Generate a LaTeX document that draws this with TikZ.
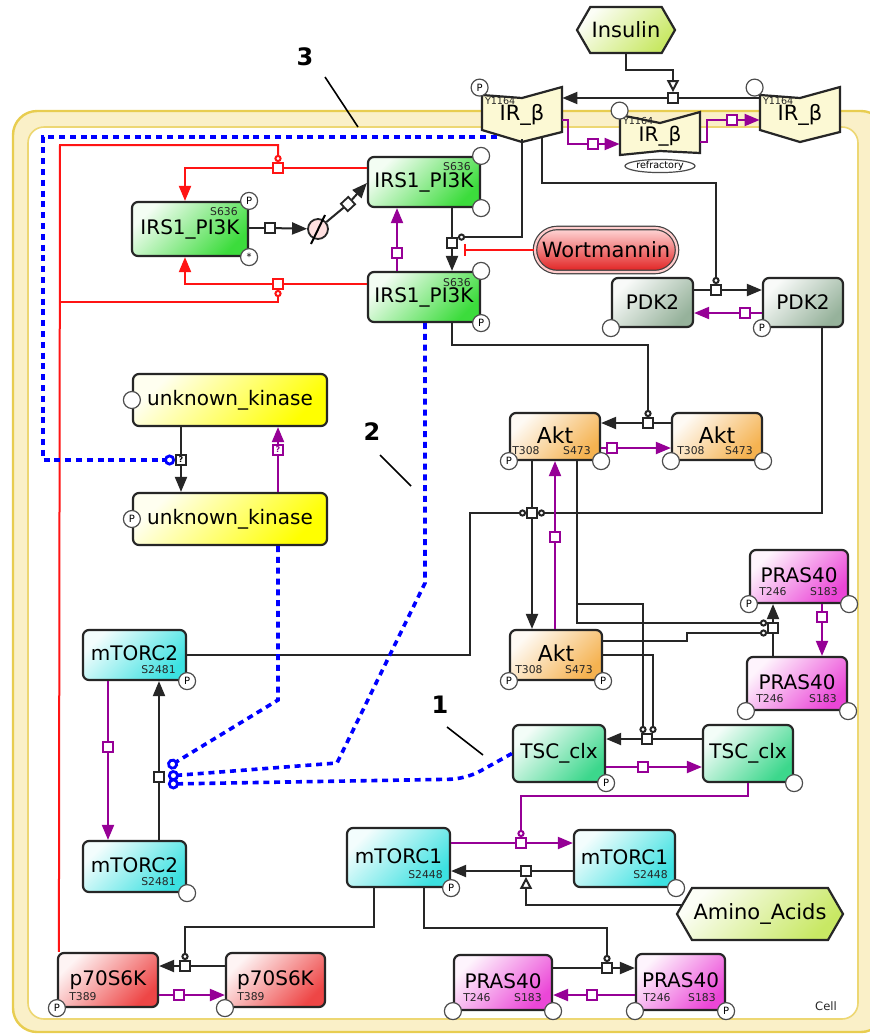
\documentclass[tikz,border=0pt]{standalone}
\usepackage{fontspec}
\setmainfont{DejaVu Sans}
\usepackage{tikz}
\usetikzlibrary{shapes.geometric,shapes.symbols,arrows.meta,positioning,calc}
\definecolor{irsgreen}{RGB}{60,220,60}
\definecolor{pdkgray}{RGB}{150,178,155}
\definecolor{aktorange}{RGB}{245,178,80}
\definecolor{prasmag}{RGB}{235,70,215}
\definecolor{tscgreen}{RGB}{60,215,140}
\definecolor{mtorcyan}{RGB}{60,225,225}
\definecolor{ukyellow}{RGB}{255,255,0}
\definecolor{p70red}{RGB}{238,70,70}
\definecolor{wortred}{RGB}{225,30,30}
\definecolor{hexgreen}{RGB}{200,232,100}
\definecolor{irfill}{RGB}{252,249,212}
\definecolor{ppurple}{RGB}{150,0,150}
\definecolor{bblue}{RGB}{0,0,255}
\definecolor{rred}{RGB}{255,20,20}
\definecolor{membfill}{RGB}{250,240,200}
\definecolor{membline}{RGB}{232,205,80}

\tikzset{
  species/.style={draw=black!85, line width=1.1pt, rounded corners=3pt, inner sep=0pt,
    font=\fontsize{10}{12}\selectfont},
  shadeof/.style={top color=#1!6, bottom color=#1, shading angle=45},
  irtext/.style={minimum width=40pt, minimum height=22pt, inner sep=0pt,
    font=\fontsize{10.5}{12}\selectfont},
  irline/.style={draw=black!85, fill=irfill, line width=1.1pt},
  hexa/.style={signal, signal to=east and west, signal pointer angle=120, draw=black!85,
    line width=1.1pt, inner sep=0pt, font=\fontsize{10.5}{12}\selectfont},
  site/.style={font=\fontsize{5.4}{6}\selectfont, inner sep=0pt, text=black!85},
  irsite/.style={site, font=\fontsize{4.8}{5}\selectfont, anchor=north west},
  pstate/.style={circle, draw=black!70, fill=white, line width=0.6pt, minimum size=8.5pt,
    inner sep=0pt, anchor=center, font=\fontsize{5}{5}\selectfont},
  rxn/.style={draw=black!85, fill=white, line width=0.9pt, minimum size=5pt, inner sep=0pt,
    font=\fontsize{4}{4}\selectfont\bfseries},
  prxn/.style={rxn, draw=ppurple, text=ppurple},
  rrxn/.style={rxn, draw=rred},
  link/.style={draw=black!85, line width=1pt},
  conv/.style={link, -{Triangle[length=7.5pt,width=6pt]}},
  stim/.style={link, -{Triangle[open, fill=white, length=6pt, width=6pt]}},
  modc/.style={link, -{Circle[open, fill=white, length=3.6pt]}},
  plink/.style={draw=ppurple, line width=1pt},
  pconv/.style={plink, -{Triangle[length=7.5pt,width=6pt]}},
  pmodc/.style={plink, -{Circle[open, fill=white, length=3.6pt]}},
  rlink/.style={draw=rred, line width=1pt},
  rconv/.style={rlink, -{Triangle[length=7.5pt,width=6pt]}},
  rmodc/.style={rlink, -{Circle[open, fill=white, length=3.6pt]}},
  inhib/.style={rlink, -{Bar[width=6pt]}},
  bmod/.style={draw=bblue, line width=1.8pt, dash pattern=on 3pt off 2.4pt,
    -{Circle[open, length=5.5pt, line width=1.4pt]}},
  numlab/.style={font=\fontsize{12}{12}\selectfont\bfseries, inner sep=0pt},
  pointer/.style={draw=black, line width=0.8pt}
}

\begin{document}
\begin{tikzpicture}[x=0.5pt, y=-0.5pt]
  \useasboundingbox (0,0) rectangle (869,1034);

  % cell compartment
  \draw[fill=membfill, draw=membline, line width=1.2pt, rounded corners=12pt] (13,111) rectangle (885,1032);
  \draw[fill=white, draw=membline!80, line width=0.8pt, rounded corners=8pt] (28,127) rectangle (858,1019);
  \node[site, font=\fontsize{5.8}{6}\selectfont] (cell) at (826,1006) {Cell};

  % insulin receptor
  \draw[irline] (482,95) -- (522,98) -- (562,87) -- (562,132) -- (522,142) -- (482,130) -- cycle;
  \draw[irline] (760,95) -- (800,98) -- (840,87) -- (840,132) -- (800,142) -- (760,130) -- cycle;
  \draw[irline] (620,115) -- (660,123) -- (700,112) -- (700,153) -- (660,151) -- (620,155) -- cycle;
  \node[irtext, label={[irsite, xshift=1.5pt, yshift=-2pt]north west:Y1164},
    label={[pstate, xshift=-1pt, yshift=2.5pt]north west:P}] (irA) at (522,115) {\raisebox{-3pt}{IR\_β}};
  \node[irtext, label={[irsite, xshift=1.5pt, yshift=-2pt]north west:Y1164},
    label={[pstate, xshift=-2.5pt, yshift=2.5pt]north west:{}}] (irB) at (800,115) {\raisebox{-3pt}{IR\_β}};
  \node[irtext, font=\fontsize{10}{12}\selectfont,
    label={[irsite, xshift=1.5pt, yshift=-1.5pt]north west:Y1164},
    label={[pstate, yshift=1.5pt]north west:{}}] (irR) at (660,136) {\raisebox{-5pt}{IR\_β}};
  \node[ellipse, draw=black!70, fill=white, line width=0.6pt, minimum width=35pt, minimum height=6.5pt,
    inner sep=0pt, font=\fontsize{4.8}{5}\selectfont] (refr) at (660,166) {refractory};

  % species
  \node[hexa, shadeof=hexgreen, minimum width=49pt, minimum height=23pt] (ins) at (626,30) {Insulin};
  \node[hexa, shadeof=hexgreen, minimum width=83pt, minimum height=26pt] (amino) at (760,914) {Amino\_Acids};
  \node[species, shadeof=wortred, rounded corners=11pt, minimum width=71pt, minimum height=22pt,
    font=\fontsize{10.5}{12}\selectfont, top color=red!15,
    draw=black!75, double=red!20, double distance=1.1pt, line width=0.6pt] (wort) at (606,250) {Wortmannin};

  \node[species, shadeof=irsgreen, minimum width=58pt, minimum height=27pt,
    label={[site, anchor=north east, xshift=-5.5pt, yshift=-3pt]north east:S636},
    label={[pstate]north east:P}, label={[pstate]south east:*}] (irsL) at (190,229) {IRS1\_PI3K};
  \node[species, shadeof=irsgreen, minimum width=56pt, minimum height=25pt,
    label={[site, anchor=north east, xshift=-5pt, yshift=-3pt]north east:S636},
    label={[pstate]north east:{}}, label={[pstate]south east:{}}] (irsU) at (424,182) {IRS1\_PI3K};
  \node[species, shadeof=irsgreen, minimum width=56pt, minimum height=25pt,
    label={[site, anchor=north east, xshift=-5pt, yshift=-3.5pt]north east:S636},
    label={[pstate]north east:{}}, label={[pstate]south east:P}] (irsD) at (424,297) {IRS1\_PI3K};

  \node[species, shadeof=pdkgray, minimum width=40.5pt, minimum height=24.5pt,
    label={[pstate]south west:{}}] (pdkA) at (652.5,302.5) {PDK2};
  \node[species, shadeof=pdkgray, minimum width=40pt, minimum height=24.5pt,
    label={[pstate]south west:P}] (pdkB) at (803,302.5) {PDK2};

  \node[species, shadeof=aktorange, minimum width=45pt, minimum height=23.5pt, font=\fontsize{11}{12}\selectfont,
    label={[site, anchor=south west, xshift=1.5pt, yshift=3pt]south west:T308},
    label={[site, anchor=south east, xshift=-5pt, yshift=3pt]south east:S473},
    label={[pstate]south west:P}, label={[pstate]south east:{}}] (aktP) at (555,436.5) {\raisebox{1.5pt}{Akt}};
  \node[species, shadeof=aktorange, minimum width=45pt, minimum height=23.5pt, font=\fontsize{11}{12}\selectfont,
    label={[site, anchor=south west, xshift=3pt, yshift=3pt]south west:T308},
    label={[site, anchor=south east, xshift=-5pt, yshift=3pt]south east:S473},
    label={[pstate]south west:{}}, label={[pstate]south east:{}}] (akt0) at (717,436.5) {\raisebox{1.5pt}{Akt}};
  \node[species, shadeof=aktorange, minimum width=46pt, minimum height=25pt, font=\fontsize{11}{12}\selectfont,
    label={[site, anchor=south west, xshift=3pt, yshift=3.5pt]south west:T308},
    label={[site, anchor=south east, xshift=-5pt, yshift=3.5pt]south east:S473},
    label={[pstate]south west:P}, label={[pstate]south east:P}] (aktPP) at (556,655) {\raisebox{1.5pt}{Akt}};

  \node[species, shadeof=prasmag, minimum width=49pt, minimum height=26.5pt,
    label={[site, anchor=south west, xshift=5pt, yshift=4pt]south west:T246},
    label={[site, anchor=south east, xshift=-5.5pt, yshift=4pt]south east:S183},
    label={[pstate]south west:P}, label={[pstate]south east:{}}] (prasP) at (799,576.5) {\raisebox{1.5pt}{PRAS40}};
  \node[species, shadeof=prasmag, minimum width=50pt, minimum height=26.5pt,
    label={[site, anchor=south west, xshift=5pt, yshift=4pt]south west:T246},
    label={[site, anchor=south east, xshift=-5.5pt, yshift=4pt]south east:S183},
    label={[pstate]south west:{}}, label={[pstate]south east:{}}] (pras0) at (797,683.5) {\raisebox{1.5pt}{PRAS40}};
  \node[species, shadeof=prasmag, minimum width=49pt, minimum height=27.5pt,
    label={[site, anchor=south west, xshift=5pt, yshift=4.5pt]south west:T246},
    label={[site, anchor=south east, xshift=-5.5pt, yshift=4.5pt]south east:S183},
    label={[pstate]south west:{}}, label={[pstate]south east:{}}] (prasB0) at (503,982.5) {\raisebox{1.5pt}{PRAS40}};
  \node[species, shadeof=prasmag, minimum width=44.5pt, minimum height=28pt,
    label={[site, anchor=south west, xshift=4pt, yshift=4.5pt]south west:T246},
    label={[site, anchor=south east, xshift=-5pt, yshift=4.5pt]south east:S183},
    label={[pstate]south west:{}}, label={[pstate]south east:P}] (prasBP) at (680.5,982) {\raisebox{1.5pt}{PRAS40}};

  \node[species, shadeof=tscgreen, minimum width=46pt, minimum height=28.5pt,
    label={[pstate]south east:P}] (tscP) at (559,753.5) {TSC\_clx};
  \node[species, shadeof=tscgreen, minimum width=45pt, minimum height=28.5pt,
    label={[pstate]south east:{}}] (tsc0) at (748,753.5) {TSC\_clx};

  \node[species, shadeof=mtorcyan, minimum width=51.5pt, minimum height=25pt,
    label={[site, anchor=south east, xshift=-5.5pt, yshift=3.5pt]south east:S2481},
    label={[pstate]south east:P}] (mtc2P) at (134.5,655) {\raisebox{1.5pt}{mTORC2}};
  \node[species, shadeof=mtorcyan, minimum width=51.5pt, minimum height=25.5pt,
    label={[site, anchor=south east, xshift=-5.5pt, yshift=3.5pt]south east:S2481},
    label={[pstate]south east:{}}] (mtc20) at (134.5,866.5) {\raisebox{1.5pt}{mTORC2}};
  \node[species, shadeof=mtorcyan, minimum width=51.5pt, minimum height=29.5pt,
    label={[site, anchor=south east, xshift=-4pt, yshift=4.5pt]south east:S2448},
    label={[pstate]south east:P}] (mtc1P) at (398.5,857.5) {\raisebox{1.5pt}{mTORC1}};
  \node[species, shadeof=mtorcyan, minimum width=50.5pt, minimum height=28.5pt,
    label={[site, anchor=south east, xshift=-4pt, yshift=4.5pt]south east:S2448},
    label={[pstate]south east:{}}] (mtc10) at (624.5,858.5) {\raisebox{1.5pt}{mTORC1}};

  \node[species, shadeof=ukyellow, minimum width=97pt, minimum height=26pt,
    label={[pstate]west:{}}] (ukA) at (230,400) {unknown\_kinase};
  \node[species, shadeof=ukyellow, minimum width=97pt, minimum height=26pt,
    label={[pstate]west:P}] (ukP) at (230,519) {unknown\_kinase};

  \node[species, shadeof=p70red, minimum width=50pt, minimum height=27pt,
    label={[site, anchor=south west, xshift=6pt, yshift=3.5pt]south west:T389},
    label={[pstate]south west:P}] (p70P) at (108,980) {\raisebox{2pt}{p70S6K}};
  \node[species, shadeof=p70red, minimum width=49.5pt, minimum height=27pt,
    label={[site, anchor=south west, xshift=6pt, yshift=3.5pt]south west:T389},
    label={[pstate]south west:{}}] (p700) at (275.5,980) {\raisebox{2pt}{p70S6K}};

  % degradation symbol
  \node[circle, draw=black!85, fill=red!12, line width=0.9pt, minimum size=10pt, inner sep=0pt] (deg) at (318,229) {};
  \draw[line width=1pt] ($(deg)+(-7,15)$) -- ($(deg)+(7,-14)$);

  % reaction squares
  \node[rxn] (rIR) at (673,98) {};
  \node[prxn] (rIRr) at (593,144) {};
  \node[prxn] (rIRb) at (732,120) {};
  \node[rrxn] (rIrsA) at (278,168) {};
  \node[rrxn] (rIrsB) at (278,284) {};
  \node[rxn] (rDeg) at (270,228) {};
  \node[rxn, rotate=43] (rSyn) at (348,204) {};
  \node[rxn] (rIrsC) at (452,243) {};
  \node[prxn] (rIrsD) at (397,253) {};
  \node[rxn] (rPdk) at (716,290) {};
  \node[prxn] (rPdkb) at (745,313) {};
  \node[rxn] (rAkt) at (648,423) {};
  \node[prxn] (rAktb) at (612,448) {};
  \node[rxn] (rAkt2) at (532,513) {};
  \node[prxn] (rAktc) at (555,537) {};
  \node[rxn] (rPras) at (773,628) {};
  \node[prxn] (rPrasb) at (822,617) {};
  \node[rxn] (rTsc) at (647,739) {};
  \node[prxn] (rTscb) at (643,767) {};
  \node[prxn] (rMt1b) at (521,843) {};
  \node[rxn] (rMt1) at (526,871) {};
  \node[rxn] (rP70) at (185,966) {};
  \node[prxn] (rP70b) at (179,995) {};
  \node[rxn] (rPrasB) at (607,968) {};
  \node[prxn] (rPrasBb) at (592,995) {};
  \node[rxn] (rUK) at (181,460) {?};
  \node[prxn] (rUKb) at (278,450) {?};
  \node[prxn] (rMt2b) at (108,747) {};
  \node[rxn] (rMt2) at (159,777) {};

  % insulin receptor activation
  \draw[stim] (ins.south) |- ($(rIR)+(0,-28)$) -- (rIR.north);
  \draw[link] (irB.west |- rIR) -- (rIR);
  \draw[conv] (rIR) -- (irA.east |- rIR);
  \draw[plink] ($(irA.east)+(0,5)$) -| (568,144) -- (rIRr);
  \draw[pconv] (rIRr) -- (irR.west |- rIRr);
  \draw[plink] ($(irR.east)+(0,6)$) -| (707,120) -- (rIRb);
  \draw[pconv] (rIRb) -- (irB.west |- rIRb);

  % IRS1 cycle
  \coordinate (rj) at (60,302);
  \draw[rmodc] ([xshift=1pt]p70P.north west) -- (60,145) -| (rIrsA.north);
  \draw[rmodc] (rj) -| (rIrsB.south);
  \draw[rlink] (irsU.west |- rIrsA) -- (rIrsA);
  \draw[rconv] (rIrsA) -| ($(irsL.north)+(-5,0)$);
  \draw[rlink] (irsD.west |- rIrsB) -- (rIrsB);
  \draw[rconv] (rIrsB) -| ($(irsL.south)+(-5,0)$);
  \draw[link] (irsL.east |- rDeg) -- (rDeg);
  \draw[conv] (rDeg) -- (deg);
  \draw[link] (deg) -- (rSyn);
  \draw[conv] (rSyn) -- ($(irsU.west)+(0,1)$);
  \draw[link] (irsU.south -| rIrsC) -- (rIrsC);
  \draw[conv] (rIrsC) -- (irsD.north -| rIrsC);
  \draw[modc] ($(irA)+(0,24)$) |- (rIrsC.north east);
  \draw[inhib] (wort.west) -- ($(rIrsC.east)+(6,7)$);
  \draw[plink] (irsD.north -| rIrsD) -- (rIrsD);
  \draw[pconv] (rIrsD) -- (irsU.south -| rIrsD);

  % PDK2
  \draw[modc] ($(irA)+(20,21)$) |- (716,183) -- (rPdk.north);
  \draw[link] (pdkA.east |- rPdk) -- (rPdk);
  \draw[conv] (rPdk) -- (pdkB.west |- rPdk);
  \draw[plink] (pdkB.west |- rPdkb) -- (rPdkb);
  \draw[pconv] (rPdkb) -- (pdkA.east |- rPdkb);

  % Akt
  \draw[modc] ($(irsD.south)+(28,0)$) |- (648,345) -- (rAkt.north);
  \draw[link] (akt0.west |- rAkt) -- (rAkt);
  \draw[conv] (rAkt) -- (aktP.east |- rAkt);
  \draw[plink] (aktP.east |- rAktb) -- (rAktb);
  \draw[pconv] (rAktb) -- (akt0.west |- rAktb);
  \draw[modc] ($(pdkB.south)+(19,0)$) |- (rAkt2.east);
  \draw[modc] (mtc2P.east) -| (470,513) -- (rAkt2.west);
  \draw[link] (aktP.south -| rAkt2) -- (rAkt2);
  \draw[conv] (rAkt2) -- (aktPP.north -| rAkt2);
  \draw[plink] (aktPP.north -| rAktc) -- (rAktc);
  \draw[pconv] (rAktc) -- (aktP.south -| rAktc);

  % PRAS40 and TSC
  \coordinate (aj) at (577,604);
  \draw[modc] ($(aktP.south)+(22,0)$) |- ($(rPras.west)+(0,-5)$);
  \draw[modc] (aj) -| ($(rTsc.north)+(-4,0)$);
  \draw[modc] ($(aktPP.east)+(0,-14)$) -| (687,633) -- ($(rPras.west)+(0,5)$);
  \draw[modc] (aktPP.east) -| ($(rTsc.north)+(6,0)$);
  \draw[link] (pras0.north -| rPras) -- (rPras);
  \draw[conv] (rPras) -- (prasP.south -| rPras);
  \draw[plink] (prasP.south -| rPrasb) -- (rPrasb);
  \draw[pconv] (rPrasb) -- (pras0.north -| rPrasb);
  \draw[link] (tsc0.west |- rTsc) -- (rTsc);
  \draw[conv] (rTsc) -- (tscP.east |- rTsc);
  \draw[plink] (tscP.east |- rTscb) -- (rTscb);
  \draw[pconv] (rTscb) -- (tsc0.west |- rTscb);

  % mTORC1
  \draw[pmodc] (tsc0.south) |- (521,796) -- (rMt1b.north);
  \draw[plink] (mtc1P.east |- rMt1b) -- (rMt1b);
  \draw[pconv] (rMt1b) -- (mtc10.west |- rMt1b);
  \draw[link] (mtc10.west |- rMt1) -- (rMt1);
  \draw[conv] (rMt1) -- (mtc1P.east |- rMt1);
  \draw[stim] ($(amino.west)+(6.5,-9)$) -| (rMt1.south);

  % p70S6K and PRAS40 (bottom)
  \draw[modc] ($(mtc1P.south)+(-25,0)$) |- (185,927) -- (rP70.north);
  \draw[link] (p700.west |- rP70) -- (rP70);
  \draw[conv] (rP70) -- (p70P.east |- rP70);
  \draw[plink] (p70P.east |- rP70b) -- (rP70b);
  \draw[pconv] (rP70b) -- (p700.west |- rP70b);
  \draw[modc] ($(mtc1P.south)+(25,0)$) |- (607,928) -- (rPrasB.north);
  \draw[link] (prasB0.east |- rPrasB) -- (rPrasB);
  \draw[conv] (rPrasB) -- (prasBP.west |- rPrasB);
  \draw[plink] (prasBP.west |- rPrasBb) -- (rPrasBb);
  \draw[pconv] (rPrasBb) -- (prasB0.east |- rPrasBb);

  % unknown kinase and mTORC2
  \draw[link] (ukA.south -| rUK) -- (rUK);
  \draw[conv] (rUK) -- (ukP.north -| rUK);
  \draw[plink] (ukP.north -| rUKb) -- (rUKb);
  \draw[pconv] (rUKb) -- (ukA.south -| rUKb);
  \draw[plink] (mtc2P.south -| rMt2b) -- (rMt2b);
  \draw[pconv] (rMt2b) -- (mtc20.north -| rMt2b);
  \draw[link] (mtc20.north -| rMt2) -- (rMt2);
  \draw[conv] (rMt2) -- (mtc2P.south -| rMt2);

  % dotted feedback paths
  \draw[bmod] ($(irA)+(-25,22)$) -- (43,137) |- (rUK.west);
  \draw[bmod] (ukP.south -| rUKb) -- (278,700) -- ($(rMt2.east)+(3,-10)$);
  \draw[bmod] ($(irsD.south)+(1,0)$) -- (425,583) -- (337,763) -- ($(rMt2.east)+(3,-1)$);
  \draw[bmod, rounded corners=8pt] (tscP.west) -- (466,779) -- ($(rMt2.east)+(3,7)$);

  % numbered pointers
  \node[numlab] (n3) at (305,57) {3};
  \draw[pointer] ($(n3)+(20,20)$) -- ++(33,50);
  \node[numlab] (n2) at (372,432) {2};
  \draw[pointer] ($(n2)+(8,23)$) -- ++(31,31);
  \node[numlab] (n1) at (440,705) {1};
  \draw[pointer] ($(n1)+(7,22)$) -- ++(36,28);
\end{tikzpicture}
\end{document}
